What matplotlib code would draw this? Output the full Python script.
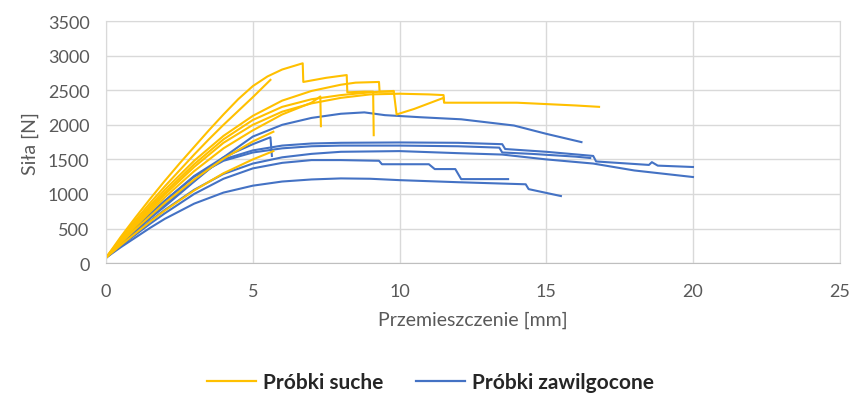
import matplotlib
matplotlib.use("Agg")
import matplotlib.pyplot as plt
from matplotlib.lines import Line2D

plt.rcParams['font.family'] = ['Lato', 'DejaVu Sans']

# ---- data: dry samples (Próbki suche) ----
dry_1_x = [0, 0.5, 1, 1.5, 2, 2.5, 3, 3.5, 4, 4.5, 5, 5.5, 6, 6.7, 6.72, 7.5, 8.2, 8.22, 8.8, 9.1, 9.12]
dry_1_y = [80, 380, 660, 930, 1190, 1440, 1680, 1920, 2150, 2370, 2560, 2700, 2800, 2890, 2620, 2680, 2720, 2470, 2480, 2480, 1850]
dry_2_x = [0, 0.5, 1, 1.5, 2, 2.5, 3, 3.5, 4, 4.5, 5, 5.6]
dry_2_y = [80, 360, 620, 870, 1110, 1340, 1570, 1790, 2000, 2200, 2400, 2650]
dry_3_x = [0, 0.5, 1, 1.5, 2, 3, 4, 5, 6, 7, 8, 8.5, 9.3, 9.32, 9.8]
dry_3_y = [80, 340, 590, 830, 1060, 1480, 1840, 2130, 2350, 2490, 2580, 2610, 2620, 2480, 2480]
dry_4_x = [0, 0.5, 1, 1.5, 2, 3, 4, 5, 6, 7, 8, 9, 9.8, 9.9, 10.5, 11.5, 11.52, 12, 13, 14, 15, 16, 16.8]
dry_4_y = [80, 330, 570, 800, 1020, 1430, 1790, 2070, 2260, 2370, 2430, 2470, 2490, 2150, 2230, 2390, 2320, 2320, 2320, 2320, 2300, 2280, 2260]
dry_5_x = [0, 0.5, 1, 1.5, 2, 3, 4, 5, 6, 7, 8, 9, 10, 11, 11.5, 11.52]
dry_5_y = [80, 320, 550, 770, 990, 1390, 1740, 2000, 2190, 2310, 2390, 2440, 2450, 2440, 2430, 2330]
dry_6_x = [0, 0.5, 1, 1.5, 2, 3, 4, 5, 6, 7, 7.3, 7.32]
dry_6_y = [80, 310, 530, 740, 950, 1330, 1660, 1920, 2150, 2320, 2410, 1980]
dry_7_x = [0, 0.5, 1, 1.5, 2, 3, 4, 5, 5.7]
dry_7_y = [80, 290, 490, 680, 870, 1210, 1510, 1760, 1900]
dry_8_x = [0, 0.5, 1, 1.5, 2, 3, 4, 5, 5.7]
dry_8_y = [80, 260, 430, 600, 760, 1050, 1300, 1500, 1620]

# ---- data: wet samples (Próbki zawilgocone) ----
wet_1_x = [0, 0.5, 1, 1.5, 2, 3, 4, 5, 6, 7, 8, 8.8, 9.5, 10.7, 12.1, 13.9, 15, 16.2]
wet_1_y = [80, 280, 470, 650, 820, 1180, 1530, 1830, 2000, 2100, 2160, 2180, 2140, 2110, 2080, 1990, 1870, 1750]
wet_2_x = [0, 0.5, 1, 1.5, 2, 3, 3.5, 4, 5, 6, 7, 8, 10, 12, 13.5, 13.6, 15, 16.6, 16.7, 18.5, 18.6, 18.8, 20]
wet_2_y = [80, 290, 480, 660, 840, 1190, 1360, 1500, 1630, 1700, 1730, 1740, 1745, 1740, 1720, 1650, 1610, 1550, 1470, 1420, 1460, 1410, 1390]
wet_3_x = [0, 0.5, 1, 1.5, 2, 3, 4, 5, 6, 7, 8, 10, 12, 13.5, 15, 16.6, 18, 20]
wet_3_y = [80, 270, 440, 610, 770, 1060, 1290, 1440, 1530, 1580, 1610, 1620, 1590, 1570, 1500, 1440, 1340, 1245]
wet_4_x = [0, 0.5, 1, 1.5, 2, 3, 4, 5, 6, 7, 8, 10, 12, 13.4, 13.5, 14.5, 16, 16.5]
wet_4_y = [80, 300, 510, 710, 900, 1250, 1480, 1600, 1660, 1690, 1700, 1700, 1690, 1670, 1600, 1580, 1540, 1520]
wet_5_x = [0, 0.5, 1, 1.5, 2, 3, 4, 5, 6, 7, 8, 9.3, 9.4, 11, 11.2, 11.9, 12.1, 13.7]
wet_5_y = [80, 250, 410, 570, 720, 1000, 1220, 1370, 1450, 1490, 1490, 1480, 1430, 1430, 1360, 1360, 1215, 1215]
wet_6_x = [0, 0.5, 1, 1.5, 2, 3, 4, 5, 6, 7, 8, 9, 10, 12, 14.3, 14.4, 15.5]
wet_6_y = [80, 230, 370, 510, 640, 860, 1020, 1120, 1180, 1210, 1225, 1220, 1200, 1170, 1140, 1070, 970]
wet_7_x = [0, 0.5, 1, 1.5, 2, 3, 4, 5, 5.6, 5.65]
wet_7_y = [80, 300, 510, 710, 900, 1260, 1530, 1720, 1820, 1550]

dry_series = [(dry_1_x, dry_1_y), (dry_2_x, dry_2_y), (dry_3_x, dry_3_y), (dry_4_x, dry_4_y),
              (dry_5_x, dry_5_y), (dry_6_x, dry_6_y), (dry_7_x, dry_7_y), (dry_8_x, dry_8_y)]
wet_series = [(wet_1_x, wet_1_y), (wet_2_x, wet_2_y), (wet_3_x, wet_3_y), (wet_4_x, wet_4_y),
              (wet_5_x, wet_5_y), (wet_6_x, wet_6_y), (wet_7_x, wet_7_y)]

legend_labels = ["Próbki suche", "Próbki zawilgocone"]
x_ticks = [0, 5, 10, 15, 20, 25]
y_ticks = [0, 500, 1000, 1500, 2000, 2500, 3000, 3500]

DRY = "#FFC000"
WET = "#4472C4"
GRAY = "#595959"

fig = plt.figure(figsize=(8.49, 4.02), dpi=100)
ax = fig.add_axes([0.125, 0.343, 0.864, 0.602])

for x, y in wet_series:
    ax.plot(x, y, color=WET, lw=1.5, solid_joinstyle='round')
for x, y in dry_series:
    ax.plot(x, y, color=DRY, lw=1.5, solid_joinstyle='round')

ax.set_xlim(0, 25)
ax.set_ylim(0, 3500)
ax.set_xticks(x_ticks)
ax.set_yticks(y_ticks)
ax.grid(True, color="#D9D9D9", lw=1.0)
ax.set_axisbelow(True)
for s in ax.spines.values():
    s.set_color("#D9D9D9")
ax.spines['bottom'].set_color("#BFBFBF")
ax.tick_params(axis='x', length=0, labelsize=13, colors=GRAY, pad=14)
ax.tick_params(axis='y', length=0, labelsize=13, colors=GRAY, pad=12)
ax.set_xlabel("Przemieszczenie [mm]", fontsize=14, color=GRAY, labelpad=9)
ax.set_ylabel("Siła [N]", fontsize=14, color=GRAY, labelpad=6)

handles = [Line2D([0], [0], color=DRY, lw=1.6), Line2D([0], [0], color=WET, lw=1.6)]
leg = fig.legend(handles, legend_labels, loc='center', bbox_to_anchor=(0.507, 0.047), ncol=2,
                 frameon=False, handlelength=2.35, columnspacing=1.6, handletextpad=0.3,
                 prop={'size': 15, 'weight': 'bold'})
for t in leg.get_texts():
    t.set_color("#262626")

fig.savefig("out.png", dpi=100)
